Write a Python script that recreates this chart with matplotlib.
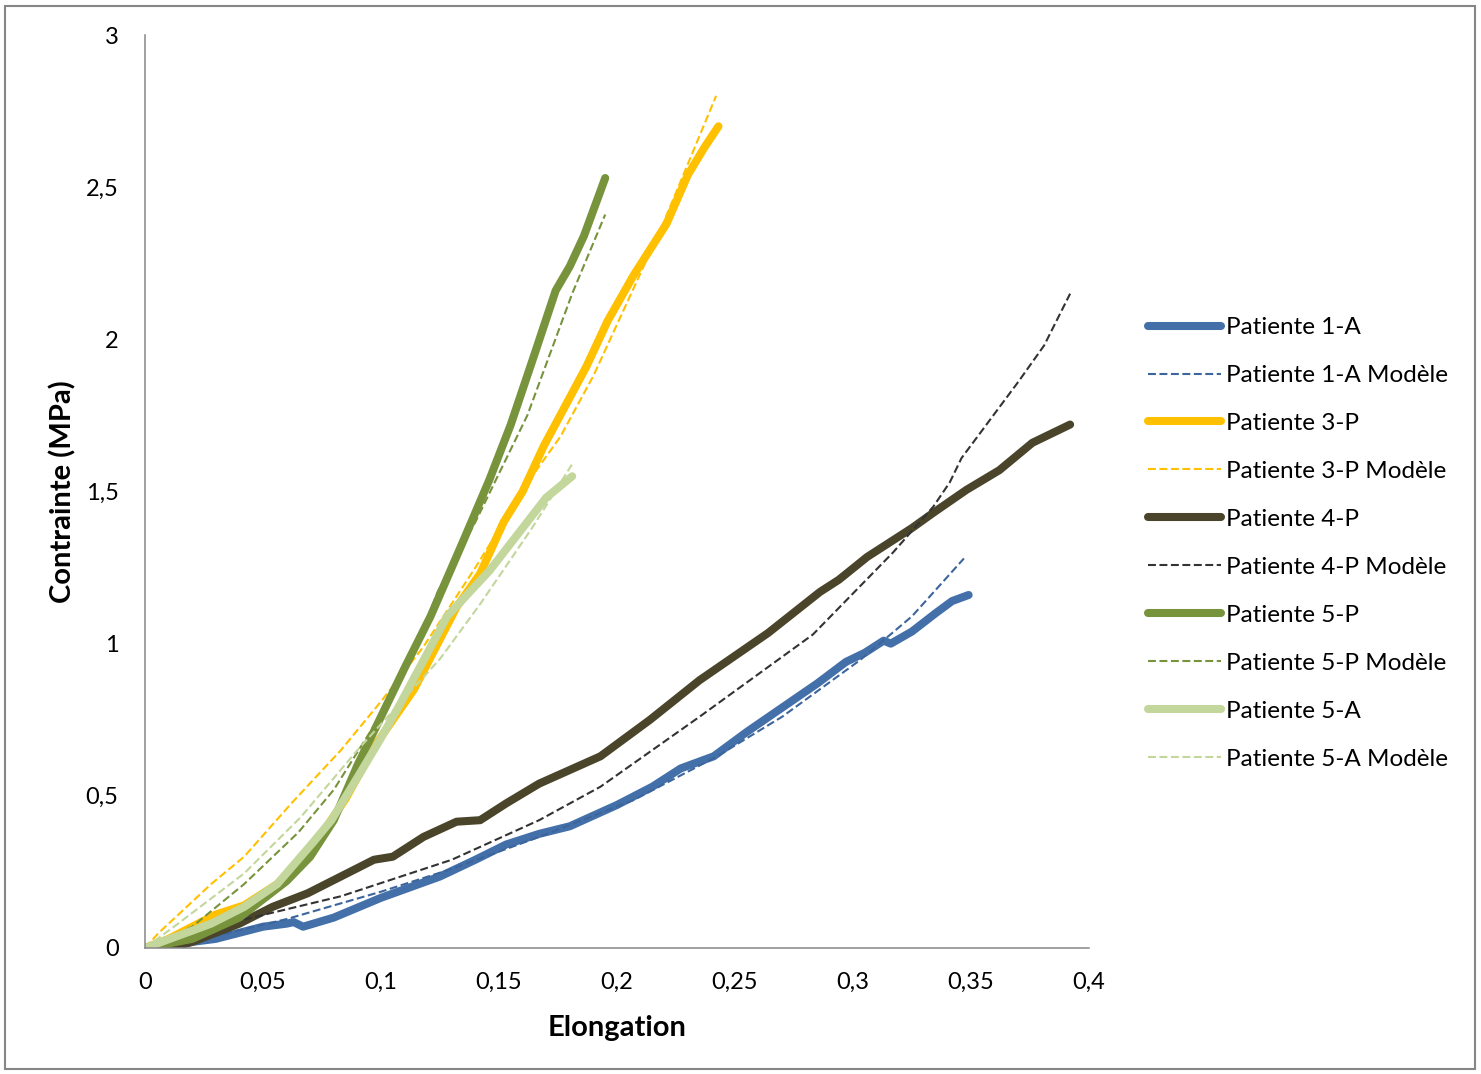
import matplotlib
matplotlib.use("Agg")
import matplotlib.pyplot as plt
from matplotlib.patches import Rectangle
from matplotlib.ticker import FuncFormatter

plt.rcParams['font.family'] = ['Lato', 'DejaVu Sans']

# Patiente 1-A
p1a_x = [0.008, 0.02, 0.03, 0.04, 0.05, 0.06, 0.063, 0.067, 0.08, 0.1, 0.125, 0.14, 0.153,
         0.167, 0.18, 0.2, 0.215, 0.227, 0.241, 0.255, 0.27, 0.285, 0.297, 0.305, 0.313,
         0.316, 0.325, 0.335, 0.342, 0.349]
p1a_y = [0.0, 0.02, 0.03, 0.05, 0.07, 0.08, 0.085, 0.07, 0.1, 0.165, 0.235, 0.29, 0.34,
         0.375, 0.40, 0.47, 0.53, 0.59, 0.63, 0.71, 0.79, 0.87, 0.94, 0.97, 1.01,
         1.0, 1.04, 1.10, 1.14, 1.16]
p1a_mx = [0, 0.03, 0.06, 0.1, 0.13, 0.167, 0.207, 0.242, 0.27, 0.303, 0.325, 0.347]
p1a_my = [0, 0.04, 0.095, 0.185, 0.26, 0.365, 0.486, 0.628, 0.76, 0.946, 1.09, 1.28]

# Patiente 3-P
p3p_x = [0, 0.01, 0.02, 0.03, 0.042, 0.056, 0.07, 0.085, 0.097, 0.114, 0.132, 0.142, 0.152,
         0.16, 0.169, 0.178, 0.187, 0.196, 0.207, 0.221, 0.23, 0.237, 0.243]
p3p_y = [0, 0.03, 0.07, 0.11, 0.14, 0.21, 0.32, 0.49, 0.66, 0.85, 1.12, 1.23, 1.40,
         1.50, 1.65, 1.78, 1.91, 2.06, 2.21, 2.38, 2.54, 2.63, 2.70]
p3p_mx = [0, 0.0056, 0.028, 0.042, 0.062, 0.083, 0.1, 0.118, 0.14, 0.164, 0.176, 0.19, 0.219, 0.242]
p3p_my = [0, 0.048, 0.21, 0.30, 0.475, 0.65, 0.81, 0.99, 1.25, 1.55, 1.68, 1.88, 2.37, 2.80]

# Patiente 4-P
p4p_x = [0.01, 0.02, 0.03, 0.04, 0.054, 0.069, 0.083, 0.097, 0.105, 0.118, 0.132, 0.142,
         0.153, 0.167, 0.193, 0.214, 0.235, 0.264, 0.286, 0.294, 0.306, 0.325, 0.334,
         0.348, 0.362, 0.376, 0.392]
p4p_y = [0.0, 0.02, 0.05, 0.08, 0.135, 0.18, 0.235, 0.29, 0.30, 0.365, 0.415, 0.42,
         0.475, 0.54, 0.63, 0.75, 0.88, 1.035, 1.17, 1.21, 1.285, 1.38, 1.43,
         1.505, 1.57, 1.66, 1.72]
p4p_mx = [0, 0.026, 0.04, 0.083, 0.13, 0.167, 0.193, 0.235, 0.283, 0.317, 0.334, 0.341,
          0.346, 0.37, 0.381, 0.392]
p4p_my = [0, 0.05, 0.09, 0.17, 0.29, 0.42, 0.53, 0.76, 1.03, 1.30, 1.45, 1.53,
          1.61, 1.86, 1.98, 2.15]

# Patiente 5-P
p5p_x = [0, 0.02, 0.04, 0.05, 0.06, 0.07, 0.08, 0.09, 0.1, 0.11, 0.121, 0.135, 0.146,
         0.155, 0.165, 0.174, 0.18, 0.186, 0.195]
p5p_y = [0, 0.03, 0.1, 0.16, 0.22, 0.3, 0.42, 0.6, 0.76, 0.92, 1.09, 1.34, 1.54,
         1.72, 1.95, 2.16, 2.24, 2.34, 2.53]
p5p_mx = [0, 0.02, 0.042, 0.065, 0.08, 0.097, 0.118, 0.124, 0.14, 0.162, 0.181, 0.195]
p5p_my = [0, 0.07, 0.21, 0.38, 0.52, 0.73, 1.05, 1.17, 1.40, 1.75, 2.15, 2.41]

# Patiente 5-A
p5a_x = [0, 0.014, 0.028, 0.042, 0.056, 0.071, 0.079, 0.09, 0.1, 0.108, 0.128, 0.146,
         0.159, 0.17, 0.181]
p5a_y = [0, 0.04, 0.08, 0.135, 0.21, 0.345, 0.42, 0.56, 0.69, 0.80, 1.09, 1.24,
         1.37, 1.48, 1.55]
p5a_mx = [0, 0.014, 0.042, 0.066, 0.09, 0.125, 0.142, 0.164, 0.181]
p5a_my = [0, 0.08, 0.245, 0.43, 0.65, 0.95, 1.13, 1.38, 1.59]

series = [
    ("Patiente 1-A", p1a_x, p1a_y, "#4470AA", "solid"),
    ("Patiente 1-A Modèle", p1a_mx, p1a_my, "#3B659C", "dash"),
    ("Patiente 3-P", p3p_x, p3p_y, "#FFC000", "solid"),
    ("Patiente 3-P Modèle", p3p_mx, p3p_my, "#FFC000", "dash"),
    ("Patiente 4-P", p4p_x, p4p_y, "#4A452A", "solid"),
    ("Patiente 4-P Modèle", p4p_mx, p4p_my, "#333333", "dash"),
    ("Patiente 5-P", p5p_x, p5p_y, "#77933C", "solid"),
    ("Patiente 5-P Modèle", p5p_mx, p5p_my, "#77933C", "dash"),
    ("Patiente 5-A", p5a_x, p5a_y, "#C3D69B", "solid"),
    ("Patiente 5-A Modèle", p5a_mx, p5a_my, "#C3D69B", "dash"),
]

fig = plt.figure(figsize=(14.81, 10.74), dpi=100)
ax = fig.add_axes([145 / 1481, 126 / 1074, 944 / 1481, 913 / 1074])

for name, xs, ys, col, kind in series:
    if kind == "solid":
        ax.plot(xs, ys, color=col, lw=5.8, solid_capstyle='round',
                solid_joinstyle='round', label=name)
    else:
        ax.plot(xs, ys, color=col, lw=1.5, linestyle=(0, (3.8, 1.7)), label=name)

ax.set_xlim(0, 0.4)
ax.set_ylim(0, 3)
ax.set_xticks([0, 0.05, 0.1, 0.15, 0.2, 0.25, 0.3, 0.35, 0.4])
ax.set_yticks([0, 0.5, 1, 1.5, 2, 2.5, 3])
fmt = FuncFormatter(lambda v, p: ("%g" % round(v, 3)).replace(".", ","))
ax.xaxis.set_major_formatter(fmt)
ax.yaxis.set_major_formatter(fmt)
ax.tick_params(axis='both', length=0, labelsize=17, colors='black')
ax.tick_params(axis='y', pad=19)
ax.tick_params(axis='x', pad=17)

for s in ['top', 'right']:
    ax.spines[s].set_visible(False)
for s in ['left', 'bottom']:
    ax.spines[s].set_color('#868686')
    ax.spines[s].set_linewidth(1.1)

ax.set_xlabel("Elongation", fontsize=21, fontweight='bold', labelpad=16)
ax.set_ylabel("Contrainte (MPa)", fontsize=21, fontweight='bold', labelpad=7)

fig.legend(loc='upper left', bbox_to_anchor=(1148 / 1481, 1 - 317 / 1074),
           frameon=False, fontsize=17.5, handlelength=3.0, handletextpad=0.2,
           labelspacing=1.11, borderpad=0, borderaxespad=0)

fig.patches.append(Rectangle((5 / 1481, 5 / 1074), 1470 / 1481, 1063 / 1074,
                             transform=fig.transFigure, fill=False,
                             edgecolor='#868686', lw=1.5))

fig.savefig("out.png", dpi=100)
